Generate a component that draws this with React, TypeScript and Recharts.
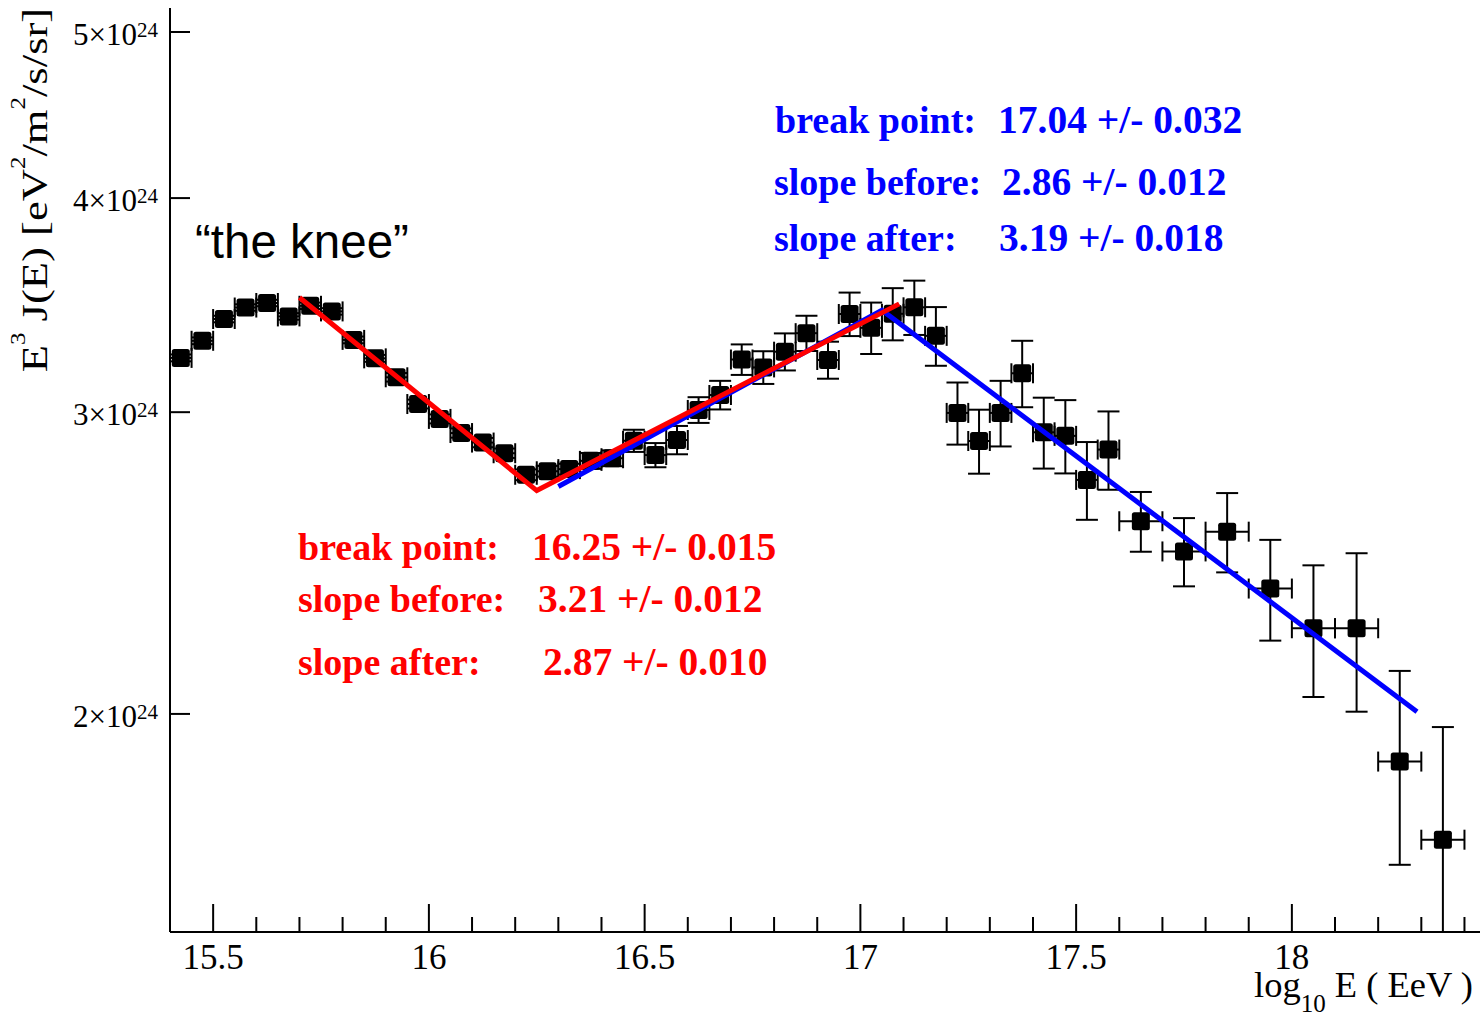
import { ComposedChart, Scatter, Line, XAxis, YAxis, ErrorBar } from "recharts";

// bin centres, log10(E / eV)
const logEnergy = [
  15.425, 15.475, 15.525, 15.575, 15.625, 15.675, 15.725, 15.775, 15.825, 15.875,
  15.925, 15.975, 16.025, 16.075, 16.125, 16.175, 16.225, 16.275, 16.325, 16.375,
  16.425, 16.475, 16.525, 16.575, 16.625, 16.675, 16.725, 16.775, 16.825, 16.875,
  16.925, 16.975, 17.025, 17.075, 17.125, 17.175, 17.225, 17.275, 17.325, 17.375,
  17.425, 17.475, 17.525, 17.575, 17.65, 17.75, 17.85, 17.95, 18.05, 18.15,
  18.25, 18.35,
];

// E^3 J(E), in units of 10^24 eV^2/m^2/s/sr
const flux = [
  3.227, 3.302, 3.4, 3.453, 3.474, 3.412, 3.461, 3.435, 3.306, 3.225,
  3.144, 3.033, 2.973, 2.917, 2.88, 2.839, 2.758, 2.771, 2.779, 2.81,
  2.82, 2.887, 2.832, 2.89, 3.009, 3.07, 3.22, 3.186, 3.254, 3.336,
  3.218, 3.423, 3.36, 3.424, 3.454, 3.324, 2.997, 2.886, 2.997, 3.161,
  2.92, 2.906, 2.739, 2.853, 2.591, 2.488, 2.555, 2.367, 2.244, 2.244,
  1.876, 1.689,
];

const fluxErr = [
  0.015, 0.015, 0.015, 0.015, 0.015, 0.015, 0.015, 0.015, 0.015, 0.015,
  0.018, 0.018, 0.018, 0.018, 0.018, 0.018, 0.02, 0.02, 0.02, 0.03,
  0.03, 0.043, 0.046, 0.055, 0.052, 0.059, 0.066, 0.07, 0.081, 0.079,
  0.08, 0.1, 0.116, 0.12, 0.126, 0.131, 0.125, 0.124, 0.132, 0.141,
  0.139, 0.143, 0.143, 0.15, 0.104, 0.114, 0.136, 0.16, 0.198, 0.238,
  0.243, 0.276,
];

const binHalfWidth = [
  0.025, 0.025, 0.025, 0.025, 0.025, 0.025, 0.025, 0.025, 0.025, 0.025,
  0.025, 0.025, 0.025, 0.025, 0.025, 0.025, 0.025, 0.025, 0.025, 0.025,
  0.025, 0.025, 0.025, 0.025, 0.025, 0.025, 0.025, 0.025, 0.025, 0.025,
  0.025, 0.025, 0.025, 0.025, 0.025, 0.025, 0.025, 0.025, 0.025, 0.025,
  0.025, 0.025, 0.025, 0.025, 0.05, 0.05, 0.05, 0.05, 0.05, 0.05,
  0.05, 0.05,
];

// broken power-law fits
const redFitX = [15.7, 16.25, 17.09];
const redFitY = [3.5, 2.7, 3.47];
const blueFitX = [16.3, 17.05, 18.29];
const blueFitY = [2.715, 3.44, 2.006];

const xTicks = [
  15.5, 15.6, 15.7, 15.8, 15.9, 16, 16.1, 16.2, 16.3, 16.4, 16.5, 16.6, 16.7, 16.8, 16.9,
  17, 17.1, 17.2, 17.3, 17.4, 17.5, 17.6, 17.7, 17.8, 17.9, 18, 18.1, 18.2, 18.3, 18.4,
];
const xMajorTicks = [15.5, 16, 16.5, 17, 17.5, 18];
const yTicks = [2, 3, 4, 5];

const fitLabels = ["break point:", "slope before:", "slope after:"];
const redValues = ["16.25 +/- 0.015", "3.21 +/- 0.012", "2.87 +/- 0.010"];
const blueValues = ["17.04 +/- 0.032", "2.86 +/- 0.012", "3.19 +/- 0.018"];

const X_DOMAIN = [15.4, 18.436];
const Y_DOMAIN = [1.492, 5.164];
const SERIF = '"Liberation Serif", "Times New Roman", serif';
const SANS = '"Liberation Sans", Arial, sans-serif';

// lower error is cut at the frame, like the original plot
const points = logEnergy.map((x, i) => ({
  x,
  y: flux[i],
  ex: binHalfWidth[i],
  ey: [Math.min(fluxErr[i], flux[i] - Y_DOMAIN[0]), fluxErr[i]],
}));
const redFit = redFitX.map((x, i) => ({ x, y: redFitY[i] }));
const blueFit = blueFitX.map((x, i) => ({ x, y: blueFitY[i] }));

const Square = (props: any) => {
  const { cx, cy } = props;
  return <rect x={cx - 9} y={cy - 9} width={18} height={18} rx={2.5} fill="#000" />;
};

const XTick = (props: any) => {
  const { x, y, payload } = props;
  const major = xMajorTicks.includes(payload.value);
  return (
    <g>
      <line x1={x} x2={x} y1={y} y2={y - (major ? 28 : 15)} stroke="#000" strokeWidth={2} />
      {major && (
        <text x={x} y={y + 37} textAnchor="middle" fontFamily={SERIF} fontSize={35} fill="#000">
          {payload.value}
        </text>
      )}
    </g>
  );
};

const YTick = (props: any) => {
  const { x, y, payload } = props;
  return (
    <g>
      <line x1={x} x2={x + 20} y1={y} y2={y} stroke="#000" strokeWidth={2} />
      <text x={x - 12} y={y + 13} textAnchor="end" fontFamily={SERIF} fontSize={31} fill="#000">
        {payload.value}×10
        <tspan dy={-8} fontSize={21}>24</tspan>
      </text>
    </g>
  );
};

const axisLine = { stroke: "#000", strokeWidth: 2 };

export default function App() {
  return (
    <div
      style={{
        position: "absolute",
        left: 0,
        top: 0,
        width: 1480,
        height: 1018,
        overflow: "hidden",
        background: "#fff",
      }}
    >
      <ComposedChart width={1480} height={1018} margin={{ top: 8, right: 0, bottom: 0, left: 0 }}>
        <XAxis
          dataKey="x"
          type="number"
          domain={X_DOMAIN}
          allowDataOverflow
          ticks={xTicks}
          interval={0}
          height={86}
          tickSize={0}
          tickMargin={0}
          tickLine={false}
          axisLine={axisLine}
          tick={<XTick />}
        />
        <XAxis
          xAxisId="top"
          orientation="top"
          dataKey="x"
          type="number"
          domain={X_DOMAIN}
          allowDataOverflow
          height={0}
          tick={false}
          tickLine={false}
          axisLine={axisLine}
        />
        <YAxis
          dataKey="y"
          type="number"
          scale="log"
          domain={Y_DOMAIN}
          allowDataOverflow
          ticks={yTicks}
          interval={0}
          width={170}
          tickSize={0}
          tickMargin={0}
          tickLine={false}
          axisLine={axisLine}
          tick={<YTick />}
        />
        <Scatter data={points} dataKey="y" shape={<Square />} isAnimationActive={false} zIndex={300}>
          <ErrorBar dataKey="ey" direction="y" width={11} stroke="#000" strokeWidth={2} />
          <ErrorBar dataKey="ex" direction="x" width={10} stroke="#000" strokeWidth={2} />
        </Scatter>
        <Line
          data={blueFit}
          dataKey="y"
          type="linear"
          stroke="#0000ff"
          strokeWidth={5}
          dot={false}
          activeDot={false}
          isAnimationActive={false}
          zIndex={700}
        />
        <Line
          data={redFit}
          dataKey="y"
          type="linear"
          stroke="#ff0000"
          strokeWidth={5}
          dot={false}
          activeDot={false}
          isAnimationActive={false}
          zIndex={710}
        />
      </ComposedChart>

      <svg
        width={1480}
        height={1018}
        style={{ position: "absolute", left: 0, top: 0, pointerEvents: "none" }}
      >
        {/* y axis title */}
        <text
          transform="translate(47,190) rotate(-90) scale(1.24,1)"
          textAnchor="middle"
          fontFamily={SERIF}
          fontSize={36}
          fill="#000"
        >
          E<tspan dy={-22} fontSize={20}>3</tspan>
          <tspan dy={22}> J(E) [eV</tspan>
          <tspan dy={-22} fontSize={20}>2</tspan>
          <tspan dy={22}>/m</tspan>
          <tspan dy={-22} fontSize={20}>2</tspan>
          <tspan dy={22}>/s/sr]</tspan>
        </text>

        {/* x axis title */}
        <text x={1473} y={997} textAnchor="end" fontFamily={SERIF} fontSize={36.5} fill="#000">
          log<tspan dy={15} fontSize={25}>10</tspan>
          <tspan dy={-15}> E ( EeV )</tspan>
        </text>

        <text x={195} y={258} fontFamily={SANS} fontSize={47.5} fill="#000">
          “the knee”
        </text>

        <g fontFamily={SERIF} fontWeight="bold" fill="#0000ff">
          <text x={775} y={133} fontSize={38}>{fitLabels[0]}</text>
          <text x={998} y={133} fontSize={39.5}>{blueValues[0]}</text>
          <text x={774} y={195} fontSize={38}>{fitLabels[1]}</text>
          <text x={1002} y={195} fontSize={39.5}>{blueValues[1]}</text>
          <text x={774} y={251} fontSize={38}>{fitLabels[2]}</text>
          <text x={999} y={251} fontSize={39.5}>{blueValues[2]}</text>
        </g>

        <g fontFamily={SERIF} fontWeight="bold" fill="#ff0000">
          <text x={298} y={560} fontSize={38}>{fitLabels[0]}</text>
          <text x={532} y={560} fontSize={39.5}>{redValues[0]}</text>
          <text x={298} y={612} fontSize={38}>{fitLabels[1]}</text>
          <text x={538} y={612} fontSize={39.5}>{redValues[1]}</text>
          <text x={298} y={675} fontSize={38}>{fitLabels[2]}</text>
          <text x={543} y={675} fontSize={39.5}>{redValues[2]}</text>
        </g>
      </svg>
    </div>
  );
}
